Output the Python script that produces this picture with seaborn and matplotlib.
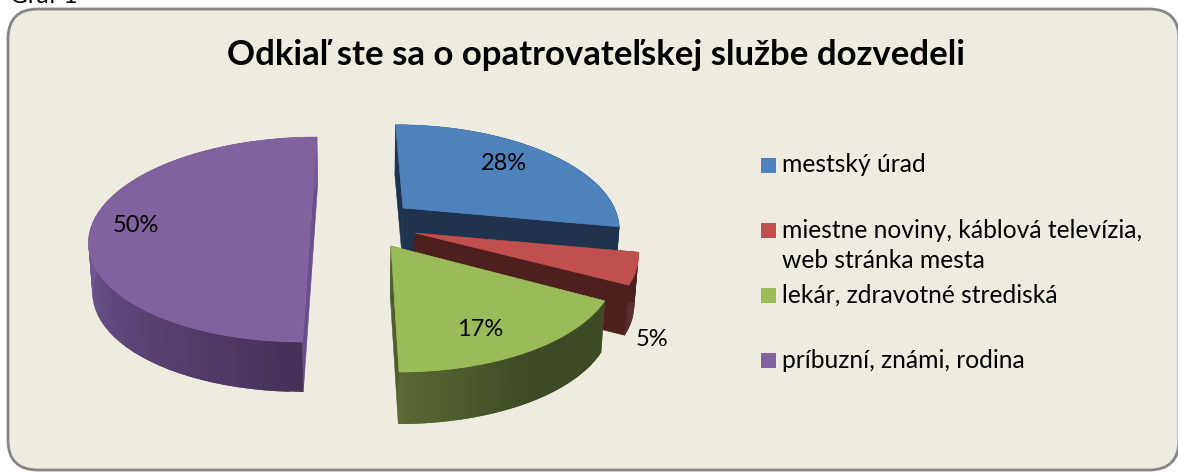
import numpy as np
import matplotlib
matplotlib.use('Agg')
import matplotlib.pyplot as plt
from matplotlib.patches import FancyBboxPatch, Polygon, Rectangle
import seaborn as sns

# data
title = 'Odkiaľ ste sa o opatrovateľskej službe dozvedeli'
categories = ['mestský úrad', 'miestne noviny, káblová televízia,\nweb stránka mesta',
              'lekár, zdravotné strediská', 'príbuzní, známi, rodina']
values = [28, 5, 17, 50]

# styles
top_colors = ['#4f81bd', '#c0504d', '#9bbb59', '#7f629e']
face_colors = ['#1f334f', '#4e1f1f', '#4f5c2c', '#664f8a']
rim_colors = [['#1f334f', '#1f334f'], ['#4e1f1f', '#4e1f1f'],
              ['#3e4a23', '#3e4a23', '#5a6835'], ['#45325a', '#735a96', '#735a96']]

# layout, in pixels of the 1178x475 picture
centres = [(403, 208), (415, 233), (391, 246), (311, 222)]
scales_x = [0.97, 1.0, 1.01, 1.0]
scales_y = [0.98, 1.0, 1.05, 1.0]
depths = [50, 50, 52, 50]
label_pos = [(504, 164), (652, 339), (480, 330), (136, 225)]
legend_y = [165.5, 230.5, 295.5, 360.5]
rx, ry, persp, shrink, vanish_x = 218, 99.5, 0.171, 0.985, 352

sns.set_theme(style='white')
plt.rcParams['font.family'] = ['Lato', 'DejaVu Sans']

fig = plt.figure(figsize=(11.78, 4.75), dpi=100)
ax = fig.add_axes([0, 0, 1, 1])
ax.set_xlim(0, 1178)
ax.set_ylim(475, 0)
ax.axis('off')

ax.text(10, 3, 'Graf 1', fontsize=17.5, va='baseline', color='black')
ax.add_patch(FancyBboxPatch((38, 39), 1111, 401, boxstyle='round,pad=30,rounding_size=30',
                            fc='#eeece1', ec='#868686', lw=2))


def project(t, i, lower=False):
    # point of the rim seen in perspective, t in degrees
    cx, cy = centres[i]
    u, v = np.cos(np.radians(t)), np.sin(np.radians(t))
    w = 1 + persp * v
    x = vanish_x + (cx - vanish_x + rx * scales_x[i] * u) / w
    y = cy - ry * scales_y[i] * v / w
    if lower:
        x = vanish_x + (x - vanish_x) * shrink
        y = y + depths[i]
    return x, y


def apex(i, lower=False):
    cx, cy = centres[i]
    if lower:
        return vanish_x + (cx - vanish_x) * shrink, cy + depths[i]
    return cx, cy


def fill(points, color, z, lw=0.4):
    ax.add_patch(Polygon(points, closed=True, fc=color, ec=color, lw=lw, zorder=z))


z = 2
for i in [3, 0, 1, 2]:
    # slices start at 12 o'clock and run clockwise
    t0 = 90 - 3.6 * sum(values[:i])
    t1 = t0 - 3.6 * values[i]
    ts = np.linspace(t0, t1, 61)

    # cut faces
    for t in (t0, t1):
        fill([apex(i), project(t, i), project(t, i, True), apex(i, True)], face_colors[i], z)
    # rim, the quads overlap so no seams show
    pal = sns.blend_palette(rim_colors[i], len(ts) - 1)
    for k in range(len(ts) - 1):
        k2 = min(k + 2, len(ts) - 1)
        fill([project(ts[k], i), project(ts[k2], i),
              project(ts[k2], i, True), project(ts[k], i, True)], pal[k], z, lw=0)
    # top
    fill([apex(i)] + [project(t, i) for t in ts], top_colors[i], z)
    z += 1

for v, (x, y) in zip(values, label_pos):
    ax.text(x, y, f'{v}%', fontsize=17, ha='center', va='center', color='black', zorder=10)

ax.text(596, 55, title, fontsize=25, fontweight='bold', ha='center', va='center', color='black')

for name, color, y in zip(categories, top_colors, legend_y):
    ax.add_patch(Rectangle((761, y - 7.5), 15, 15, fc=color, ec='none'))
    ax.text(782, y - 12, name, fontsize=17.7, ha='left', va='top', color='black', linespacing=1.4)

fig.savefig('out.png', dpi=100)
